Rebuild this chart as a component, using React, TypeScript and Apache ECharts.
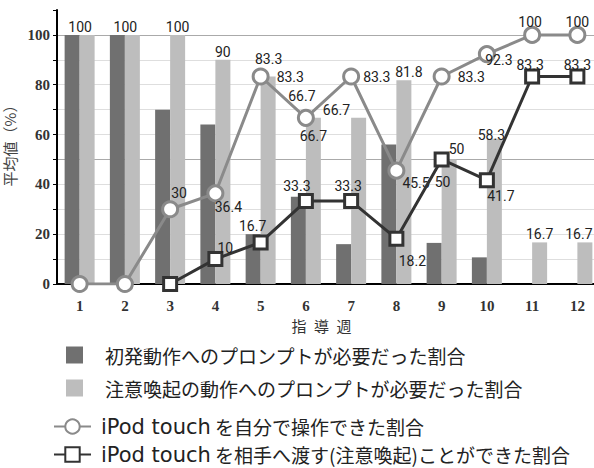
import React, { useEffect, useRef } from 'react';
import * as echarts from 'echarts';

const weeks = ['1', '2', '3', '4', '5', '6', '7', '8', '9', '10', '11', '12'];
const initialPrompt = [100, 100, 70, 64, 20, 35, 16, 56, 16.5, 10.7, 0, 0];
const attentionPrompt = [100, 100, 100, 90, 83.3, 66.7, 66.7, 81.8, 50, 58.3, 16.7, 16.7];
const selfOperate = [0, 0, 30, 36.4, 83.3, 66.7, 83.3, 45.5, 83.3, 92.3, 100, 100];
const handOver: (number | string)[] = ['-', '-', 0, 10, 16.7, 33.3, 33.3, 18.2, 50, 41.7, 83.3, 83.3];
const yTicks = [0, 20, 40, 60, 80, 100];
const seriesNames = [
  '初発動作へのプロンプトが必要だった割合',
  '注意喚起の動作へのプロンプトが必要だった割合',
  'iPod touch を自分で操作できた割合',
  'iPod touch を相手へ渡す(注意喚起)ことができた割合',
];

const LABEL_FONT = { fontFamily: 'Roboto', fontSize: 14, color: '#222' };

export default function App() {
  const ref = useRef<HTMLDivElement>(null);
  useEffect(() => {
    if (!ref.current) return;
    const chart = echarts.init(ref.current, undefined, { renderer: 'svg' });

    const attLabels: any[] = [
      { position: 'top', offset: [-7, 0] },
      { position: 'top', offset: [-7, 0] },
      { position: 'top' },
      { position: 'top' },
      { position: ['100%', 0], align: 'left', verticalAlign: 'middle', offset: [1, 0] },
      { position: 'insideTop', distance: 11 },
      { position: [0, 0], align: 'right', verticalAlign: 'middle', offset: [-1, -8] },
      { position: 'top', offset: [5, 0] },
      { position: [0, 0], align: 'center', verticalAlign: 'middle', offset: [1, 23] },
      { position: 'top', offset: [-3, 4] },
      { position: 'top' },
      { position: 'top', offset: [-6, 0] },
    ];
    const selfLabels: any[] = [
      { show: false },
      { show: false },
      { position: 'top', offset: [9, 5] },
      { position: 'bottom', offset: [13, -7] },
      { position: 'top', offset: [8, 3] },
      { position: 'top', offset: [-4, -1] },
      { position: 'right', offset: [-2, 0] },
      { position: 'right', offset: [-8, 12] },
      { position: 'right', offset: [2, 0] },
      { position: 'bottom', offset: [12, -15] },
      { position: 'top', offset: [-2, 8] },
      { position: 'top', offset: [0, 8] },
    ];
    const handLabels: any[] = [
      { show: false },
      { show: false },
      { show: false },
      { position: 'top', offset: [10, 9] },
      { position: 'top', offset: [-8, 4] },
      { position: 'top', offset: [-9, 5] },
      { position: 'top', offset: [-3, 5] },
      { position: 'bottom', offset: [16, 2] },
      { position: 'top', offset: [15, 10] },
      { position: 'bottom', offset: [14, -4] },
      { position: 'top', offset: [-2, 8] },
      { position: 'top', offset: [0, 8] },
    ];

    const withLabels = (vals: any[], cfg: any[]) =>
      vals.map((v, i) => ({ value: v, label: { show: true, ...LABEL_FONT, ...cfg[i] } }));

    const gridColors = ['#dedede', '#dedede', '#dedede', '#dedede', '#dedede', '#aaaaaa',
      '#dedede', '#dedede', '#dedede', '#dedede', '#aaaaaa', 'transparent'];

    const legendText = {
      fontFamily: '"Noto Sans CJK JP"',
      fontSize: 19,
      lineHeight: 20,
      color: '#222',
    };

    const lineLegend = (name: string, top: number) => ({
      data: [name],
      orient: 'vertical',
      left: 53,
      top,
      padding: 0,
      itemWidth: 37,
      itemHeight: 18,
      selectedMode: false,
      formatter: (n: string) => n.replace(/^(iPod touch) /, '{en|$1} '),
      textStyle: {
        ...legendText,
        padding: [0, 0, 0, 5],
        rich: {
          en: { fontFamily: 'DejaVu Sans', fontSize: 21, lineHeight: 20, color: '#222' },
        },
      },
    });

    chart.setOption({
      animation: false,
      backgroundColor: '#fff',
      grid: {
        left: 57, right: -6, top: 10, bottom: 184,
        containLabel: false, outerBoundsMode: 'none',
      },
      legend: [
        {
          data: [seriesNames[0], seriesNames[1]],
          orient: 'vertical',
          left: 66,
          top: 345,
          padding: 0,
          itemWidth: 17,
          itemHeight: 17,
          itemGap: 13,
          icon: 'rect',
          selectedMode: false,
          textStyle: { ...legendText, padding: [0, 0, 0, 17] },
        },
        lineLegend(seriesNames[2], 416),
        lineLegend(seriesNames[3], 444),
      ],
      xAxis: {
        type: 'category',
        data: weeks,
        name: '指\u2002導\u2002週',
        nameLocation: 'middle',
        nameGap: 33,
        nameTextStyle: {
          fontFamily: 'Noto Sans CJK JP',
          fontSize: 15,
          color: '#333',
          padding: [0, 14, 0, 0],
        },
        axisLine: { lineStyle: { color: '#000', width: 2 } },
        axisTick: { show: false },
        axisLabel: {
          margin: 14,
          fontFamily: 'Liberation Serif',
          fontWeight: 'bold',
          fontSize: 15,
          color: '#333',
        },
        splitLine: { show: false },
      },
      yAxis: {
        type: 'value',
        min: 0,
        max: 110,
        interval: 10,
        name: '平均値（%）',
        nameLocation: 'middle',
        nameGap: 29,
        nameRotate: 90,
        nameTextStyle: {
          fontFamily: 'Noto Sans CJK JP',
          fontSize: 15,
          color: '#444',
          padding: [0, 0, 0, 10],
        },
        axisLine: { show: true, lineStyle: { color: '#000', width: 2 } },
        axisTick: { show: true, length: 4, lineStyle: { color: '#000' } },
        axisLabel: {
          margin: 7,
          fontFamily: 'Liberation Serif',
          fontWeight: 'bold',
          fontSize: 15,
          color: '#333',
          formatter: (v: number) => (yTicks.includes(v) ? String(v) : ''),
        },
        splitLine: { show: true, lineStyle: { color: gridColors, width: 1 } },
      },
      series: [
        {
          name: seriesNames[0],
          type: 'bar',
          data: initialPrompt,
          barWidth: 15,
          barGap: '0%',
          itemStyle: { color: '#707070' },
        },
        {
          name: seriesNames[1],
          type: 'bar',
          data: withLabels(attentionPrompt, attLabels.map((c) => ({ distance: 1, ...c }))),
          barWidth: 15,
          itemStyle: { color: '#bdbdbd' },
        },
        {
          name: seriesNames[2],
          type: 'line',
          data: withLabels(selfOperate, selfLabels),
          symbol: 'circle',
          symbolSize: 15,
          lineStyle: { color: '#8a8a8a', width: 3 },
          itemStyle: { color: '#fff', borderColor: '#8a8a8a', borderWidth: 3 },
          z: 3,
        },
        {
          name: seriesNames[3],
          type: 'line',
          data: withLabels(handOver, handLabels),
          symbol: 'rect',
          symbolSize: 13,
          lineStyle: { color: '#333', width: 3 },
          itemStyle: { color: '#fff', borderColor: '#333', borderWidth: 3 },
          z: 4,
        },
      ],
    });
    return () => chart.dispose();
  }, []);

  return (
    <div
      ref={ref}
      style={{ position: 'fixed', left: 0, top: 0, width: 594, height: 468, background: '#fff' }}
    />
  );
}
